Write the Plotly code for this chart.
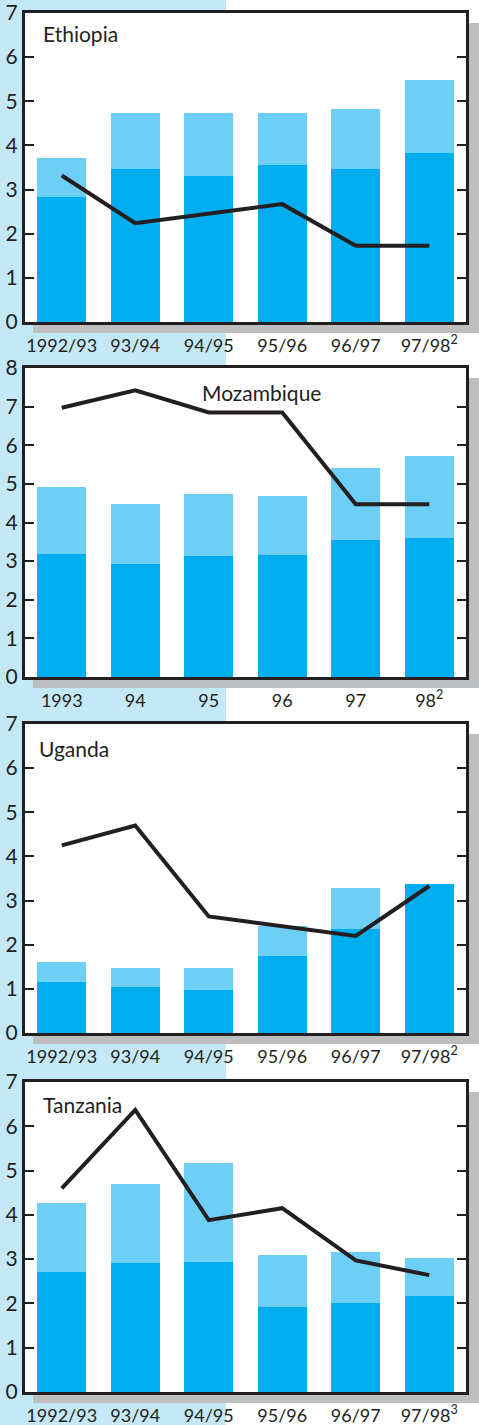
import plotly.graph_objects as go

W, H = 479, 1425

# ---------------- data ----------------
cats_fy = ["1992/93", "93/94", "94/95", "95/96", "96/97", "97/98<sup>2</sup>"]
cats_moz = ["1993", "94", "95", "96", "97", "98<sup>2</sup>"]
cats_tz = ["1992/93", "93/94", "94/95", "95/96", "96/97", "97/98<sup>3</sup>"]

eth_dark = [2.84, 3.47, 3.31, 3.55, 3.46, 3.83]
eth_total = [3.71, 4.74, 4.74, 4.74, 4.83, 5.48]
eth_line = [3.32, 2.24, None, 2.67, 1.73, 1.73]

moz_dark = [3.18, 2.92, 3.13, 3.15, 3.56, 3.59]
moz_total = [4.92, 4.49, 4.74, 4.69, 5.40, 5.72]
moz_line = [6.97, 7.42, 6.85, 6.85, 4.47, 4.47]

uga_dark = [1.16, 1.04, 0.97, 1.75, 2.36, 3.37]
uga_total = [1.61, 1.48, 1.48, 2.42, 3.29, 3.37]
uga_line = [4.25, 4.70, 2.64, None, 2.20, 3.33]

tza_dark = [2.70, 2.91, 2.93, 1.93, 2.02, 2.16]
tza_total = [4.27, 4.69, 5.16, 3.09, 3.16, 3.02]
tza_line = [4.60, 6.37, 3.88, 4.15, 2.97, 2.64]

panels = [
    ("Ethiopia", cats_fy, eth_dark, eth_total, eth_line, 7),
    ("Mozambique", cats_moz, moz_dark, moz_total, moz_line, 8),
    ("Uganda", cats_fy, uga_dark, uga_total, uga_line, 7),
    ("Tanzania", cats_tz, tza_dark, tza_total, tza_line, 7),
]

# ---------------- style ----------------
DARK = "#00aeef"
LIGHT = "#6dcff6"
INK = "#231f20"
BLUE_BG = "#c5e8f7"
SHADOW = "#bcbec0"
FONT = "Lato"

panel_px = [(13, 322), (368, 677), (724, 1033), (1082, 1392)]
x_px = (25, 466)
title_pos = [(41, 33, "left"), (261, 392, "center"), (37, 748, "left"), (41, 1104, "left")]

fig = go.Figure()
shapes = [dict(type="rect", xref="paper", yref="paper", x0=0, x1=226 / W, y0=0, y1=1,
               fillcolor=BLUE_BG, line_width=0, layer="below")]
annotations = []
layout = {}

for i, (name, cats, dark, total, line, ymax) in enumerate(panels):
    n = "" if i == 0 else str(i + 1)
    xa, ya = "x" + n, "y" + n
    light = [t - d for t, d in zip(total, dark)]
    fig.add_trace(go.Bar(x=cats, y=dark, marker_color=DARK, marker_line_width=0,
                         xaxis=xa, yaxis=ya, showlegend=False, hoverinfo="skip"))
    fig.add_trace(go.Bar(x=cats, y=light, marker_color=LIGHT, marker_line_width=0,
                         xaxis=xa, yaxis=ya, showlegend=False, hoverinfo="skip"))
    fig.add_trace(go.Scatter(x=cats, y=line, mode="lines", connectgaps=True,
                             line=dict(color=INK, width=4), xaxis=xa, yaxis=ya,
                             showlegend=False, hoverinfo="skip"))
    top, bot = panel_px[i]
    ydom = [1 - bot / H, 1 - top / H]
    xdom = [x_px[0] / W, x_px[1] / W]
    layout["xaxis" + n] = dict(domain=xdom, anchor=ya, type="category",
                               range=[-0.5, 5.5], showline=True, linewidth=3,
                               linecolor=INK, mirror=True, ticks="",
                               showgrid=False, zeroline=False, automargin=False,
                               tickfont=dict(family=FONT, size=18, color=INK),
                               ticklabelstandoff=5, ticklabeloverflow="allow",
                               fixedrange=True)
    layout["yaxis" + n] = dict(domain=ydom, anchor=xa, range=[0, ymax],
                               tickvals=list(range(0, ymax + 1)),
                               showline=True, linewidth=3, linecolor=INK,
                               mirror="ticks", ticks="inside", ticklen=9,
                               tickwidth=2, tickcolor=INK, showgrid=False,
                               zeroline=False, automargin=False,
                               ticklabeloverflow="allow",
                               tickfont=dict(family=FONT, size=21, color=INK),
                               fixedrange=True)
    # drop shadow and white plot box
    shapes.append(dict(type="rect", xref="paper", yref="paper",
                       x0=(x_px[0] + 8) / W, x1=(W + 5) / W,
                       y0=1 - (bot + 11) / H, y1=1 - (top + 10) / H,
                       fillcolor=SHADOW, line_width=0, layer="below"))
    shapes.append(dict(type="rect", xref="paper", yref="paper",
                       x0=xdom[0], x1=xdom[1], y0=ydom[0], y1=ydom[1],
                       fillcolor="white", line_width=0, layer="below"))
    tx, ty, anchor = title_pos[i]
    annotations.append(dict(text=name, xref="paper", yref="paper", x=tx / W,
                            y=1 - ty / H, xanchor=anchor, yanchor="middle",
                            showarrow=False,
                            font=dict(family=FONT, size=21, color=INK)))

fig.update_layout(**layout)
fig.update_layout(width=W, height=H, margin=dict(l=0, r=0, t=0, b=0),
                  paper_bgcolor="white", plot_bgcolor="white",
                  barmode="stack", bargap=0.333, shapes=shapes,
                  annotations=annotations, hovermode=False)

fig.write_html("out.html", config={"displayModeBar": False, "staticPlot": True},
               post_script="document.body.style.margin='0';document.body.style.overflow='hidden';")
